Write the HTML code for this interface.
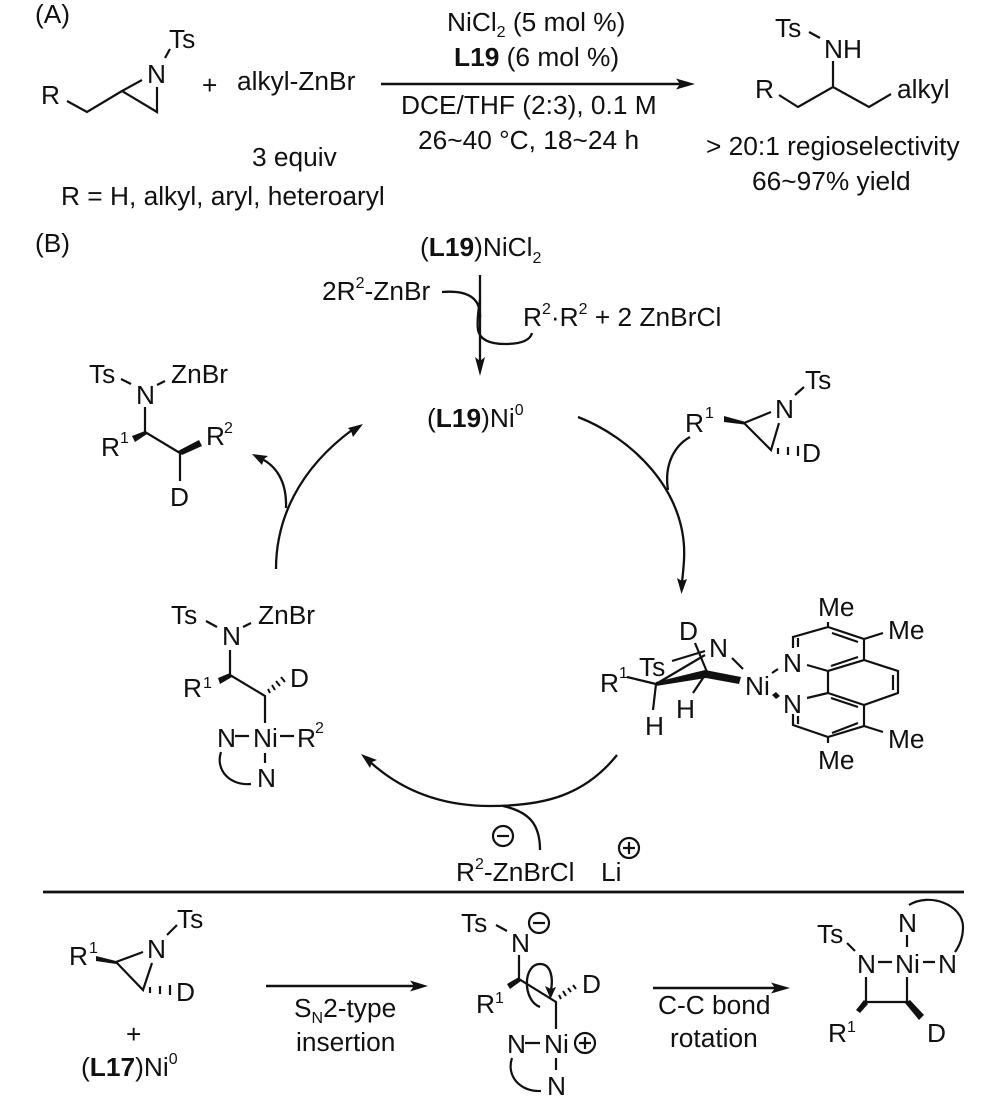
<!DOCTYPE html>
<html><head><meta charset="utf-8"><style>
html,body{margin:0;padding:0;background:#fff}
svg{display:block}
text{font-family:"Liberation Sans",sans-serif;font-size:26.3px;fill:#111}
.s{font-size:16px}
.b{font-weight:bold}
.l{stroke:#111;stroke-width:2.2;fill:none}
.a{stroke:#111;stroke-width:2.3;fill:none}
.f{fill:#111;stroke:none}
</style></head><body>
<svg width="1000" height="1104" viewBox="0 0 1000 1104" xmlns="http://www.w3.org/2000/svg">
<!-- Panel A -->
<text x="35" y="23">(A)</text>
<text x="169" y="48">Ts</text><text x="147" y="83">N</text><text x="41" y="104">R</text>
<path class="l" d="M67,101L87,112L122,91L142,80M122,91L157,112L157,87M165,58L170,49"/>
<text x="202" y="94">+</text>
<text x="237" y="90">alkyl-ZnBr</text>
<path d="M381,84H680" stroke="#111" stroke-width="2.6"/><polygon class="f" points="695,84 676,78.5 680,84 676,89.5"/>
<text x="447" y="31">NiCl<tspan class="s" dy="6">2</tspan><tspan dy="-6"> (5 mol %)</tspan></text>
<text x="454" y="66"><tspan class="b">L19</tspan> (6 mol %)</text>
<text x="401" y="114">DCE/THF (2:3), 0.1 M</text>
<text x="418" y="149">26~40 °C, 18~24 h</text>
<text x="252" y="166">3 equiv</text>
<text x="61" y="205">R = H, alkyl, aryl, heteroaryl</text>
<text x="775" y="37">Ts</text><text x="824" y="58">NH</text><text x="755" y="98">R</text><text x="897" y="98">alkyl</text>
<path class="l" d="M779,95L798,107L833,87L869,107L891,94M833,87V61M809,32L820,38"/>
<text x="706" y="155">&gt; 20:1 regioselectivity</text>
<text x="752" y="190">66~97% yield</text>
<!-- Panel B top -->
<text x="35" y="252">(B)</text>
<text x="420" y="256">(<tspan class="b">L19</tspan>)NiCl<tspan class="s" dy="7">2</tspan></text>
<text x="322" y="300">2R<tspan class="s" dy="-12">2</tspan><tspan dy="12">-ZnBr</tspan></text>
<path class="a" d="M480,275V362"/><polygon class="f" points="480,376 475,357 480,361 485,357"/>
<path class="a" d="M442,292C468,290 481,298 480,318"/>
<path class="a" d="M480,300C478,312 477,322 478,330C480,340 490,344 505,344C520,344 530,341 532,333"/>
<text x="523" y="326">R<tspan class="s" dy="-12">2</tspan><tspan dy="12">·R</tspan><tspan class="s" dy="-12">2</tspan><tspan dy="12"> + 2 ZnBrCl</tspan></text>
<text x="427" y="427">(<tspan class="b">L19</tspan>)Ni<tspan class="s" dy="-12">0</tspan></text>
<!-- Catalytic arcs -->
<path class="a" d="M578,417C630,437 688,490 684,560C683.500,568 683,574 682,582"/>
<polygon class="f" points="681.500,594 677,578 682,581 687,579"/>
<path class="a" d="M690,437C674,446 664,465 668,490"/>
<path class="a" d="M276,569C276,520 298,470 352,430"/><polygon class="f" points="363,424 348,428 351,431 353,437"/>
<path class="a" d="M286,508C287,480 275,465 260,458"/><polygon class="f" points="252,454 268,456 264,459 262,465"/>
<path class="a" d="M617,755C585,795 545,806 490,806C440,806 400,790 368,760"/><polygon class="f" points="361,754 377,760 372,762 370,768"/>
<path class="a" d="M503,806C530,812 540,825 540,850"/>
<circle class="l" cx="503" cy="836" r="10"/><path class="l" d="M497,836H509"/>
<circle class="l" cx="629" cy="848" r="10"/><path class="l" d="M623,848H635M629,842V854"/>
<text x="456" y="881">R<tspan class="s" dy="-12">2</tspan><tspan dy="12">-ZnBrCl</tspan></text>
<text x="601" y="881">Li</text>
<path d="M43,892H964" stroke="#111" stroke-width="2.8"/>
<!-- Aziridine top right -->
<text x="685" y="432">R</text><text class="s" x="705" y="418">1</text>
<polygon class="f" points="724,416 724,422 744,424.500 744,421.500"/>
<path class="l" d="M744,423L771,412M744,423L771,450L779,423M795,395L804,387"/>
<path d="M778,448V454M788,447V455M798,446V456" stroke="#111" stroke-width="2.200"/>
<text x="775" y="418">N</text><text x="805" y="389">Ts</text><text x="802" y="462">D</text>
<!-- Product upper left -->
<text x="89" y="383">Ts</text><text x="171" y="383">ZnBr</text><text x="136" y="404">N</text>
<path class="l" d="M121,379L131,384M157,385L165,381M145,407V432L180,453V481"/>
<polygon class="f" points="145,431 132,436 135,442 147,434"/>
<polygon class="f" points="178,451 199,440 202,446 182,455"/>
<text x="170" y="506">D</text><text x="101" y="456">R</text><text class="s" x="120" y="443">1</text>
<text x="206" y="445">R</text><text class="s" x="224" y="433">2</text>
<!-- Left Ni intermediate -->
<text x="171" y="624">Ts</text><text x="258" y="624">ZnBr</text><text x="222" y="645">N</text>
<path class="l" d="M206,621L217,627M243,627L251,623M230,650V675L265,696V723M235,736H249M280,736H294M265,753V763M221,752C215,770 230,786 251,784"/>
<polygon class="f" points="230,673 218,678 220,684 232,677"/>
<path d="M270,693L268,689M275,690L272,685M280,686L276,681M285,682L281,677" stroke="#111" stroke-width="2"/>
<text x="290" y="687">D</text><text x="183" y="697">R</text><text class="s" x="203" y="688">1</text>
<text x="217" y="747">N</text><text x="253" y="747">Ni</text><text x="297" y="747">R</text><text class="s" x="315" y="733">2</text>
<text x="257" y="787">N</text>
<!-- Right Ni complex -->
<text x="818" y="616">Me</text><text x="888" y="639">Me</text><text x="888" y="748">Me</text><text x="818" y="769">Me</text>
<path class="l" d="M793,648V637L828,627L864,639V660L828,671V693L864,705V726L828,737L793,725V714M864,660L898,671V693L864,705M807,665L828,671M807,698L828,693M828,622V627M864,639L883,633M864,726L883,732M828,737V743M798,638V647M798,724V716M832,633L858,642M831,666L858,657M831,698L858,707M832,733L858,723M893,675V690"/>
<text x="783" y="672">N</text><text x="783" y="713">N</text>
<text x="745" y="695">Ni</text>
<path class="l" d="M772,673L778,669M732,658L743,669"/>
<polygon class="f" points="772,695 776,692 780,696 776,699"/>
<text x="709" y="657">N</text><text x="679" y="640">D</text><text x="639" y="676">Ts</text><text x="600" y="692">R</text><text class="s" x="619" y="678">1</text>
<path class="l" d="M627,677L656,684M672,661L705,651M656,684L705,655M695,643L707,672M656,684L653,710M705,675L693,693"/>
<polygon class="f" points="656,682 705,670 741,677 739,684 706,678 656,686"/>
<text x="645" y="735">H</text><text x="676" y="718">H</text>
<!-- Bottom left -->
<text x="177" y="928">Ts</text><text x="147" y="958">N</text><text x="69" y="965">R</text><text class="s" x="89" y="953">1</text>
<path class="l" d="M167,935L177,925M116,962L143,952M116,962L143,990L152,963"/>
<polygon class="f" points="96,956 96,961 116,964 116,961"/>
<path d="M150,987V993M160,986V994M170,985V995" stroke="#111" stroke-width="2.200"/>
<text x="176" y="1001">D</text>
<text x="126" y="1043">+</text>
<text x="81" y="1076">(<tspan class="b">L17</tspan>)Ni<tspan class="s" dy="-12">0</tspan></text>
<path d="M266,986H414" stroke="#111" stroke-width="2.600"/><polygon class="f" points="428,986 410,980.500 414,986 410,991.500"/>
<text x="294" y="1017">S<tspan class="s" dy="6">N</tspan><tspan dy="-6">2-type</tspan></text>
<text x="296" y="1051">insertion</text>
<!-- Bottom middle -->
<text x="461" y="932">Ts</text><text x="511" y="952">N</text>
<path class="l" d="M496,925L507,931M519,955V979L556,1002V1029M525,1043H540M556,1058V1070M512,1058C506,1076 520,1092 541,1091"/>
<circle class="l" cx="539" cy="923" r="10"/><path class="l" d="M533,923H545"/>
<polygon class="f" points="519,977 507,984 510,989 521,981"/>
<path d="M561,999L559,995M566,996L563,991M571,992L568,988M576,989L573,985" stroke="#111" stroke-width="2"/>
<text x="582" y="993">D</text><text x="476" y="1013">R</text><text class="s" x="495" y="1003">1</text>
<path class="a" d="M540,1007C522,1000 523,964 540,964C552,964 553,980 551,990"/>
<polygon class="f" points="550.500,999 545,986 551,989 556,987"/>
<text x="507" y="1053">N</text><text x="544" y="1053">Ni</text>
<circle class="l" cx="585" cy="1043" r="10"/><path class="l" d="M579,1043H591M585,1037V1049"/>
<text x="547" y="1095">N</text>
<path d="M653,988H776" stroke="#111" stroke-width="2.600"/><polygon class="f" points="790,988 771,982.500 775,988 771,993.500"/>
<text x="658" y="1014">C-C bond</text><text x="670" y="1047">rotation</text>
<!-- Bottom right -->
<text x="817" y="943">Ts</text><text x="857" y="973">N</text><text x="895" y="973">Ni</text><text x="938" y="973">N</text><text x="898" y="932">N</text>
<path class="l" d="M847,943L855,951M878,962H892M923,962H935M907,935V947M866,977V1002H907V977M909,905C930,892 963,905 963,927C963,937 960,945 955,952"/>
<polygon class="f" points="864,1000 868,1004 860,1013 856,1010"/>
<polygon class="f" points="905,1003 910,1000 924,1015 919,1020"/>
<text x="828" y="1042">R</text><text class="s" x="847" y="1032">1</text><text x="927" y="1042">D</text>
</svg>
</body></html>
